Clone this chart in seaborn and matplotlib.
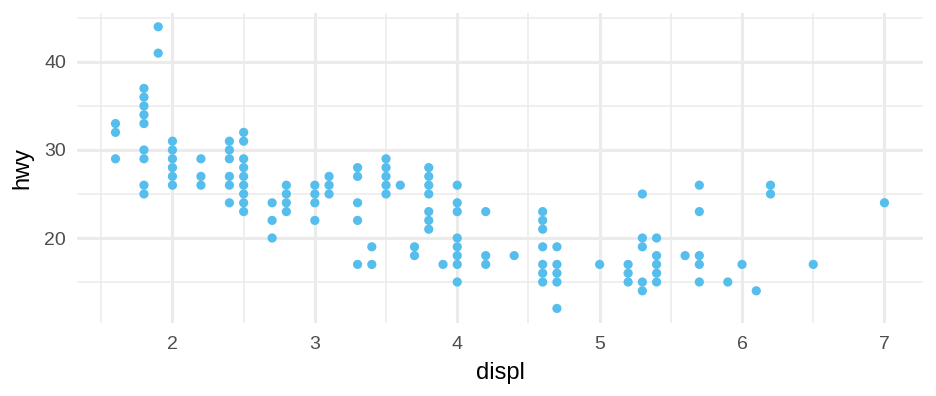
import matplotlib
matplotlib.use("Agg")
import matplotlib.pyplot as plt
import seaborn as sns
import pandas as pd
import numpy as np

# unique (displ, hwy) pairs
displ = ([1.6]*3 + [1.8]*9 + [1.9]*2 + [2.0]*6 + [2.2]*3 + [2.4]*6 + [2.5]*9 +
         [2.7]*3 + [2.8]*4 + [3.0]*4 + [3.1]*3 + [3.3]*5 + [3.4]*2 + [3.5]*5 +
         [3.6]*1 + [3.7]*2 + [3.8]*7 + [3.9]*1 + [4.0]*8 + [4.2]*3 + [4.4]*1 +
         [4.6]*7 + [4.7]*5 + [5.0]*1 + [5.2]*3 + [5.3]*5 + [5.4]*5 + [5.6]*1 +
         [5.7]*5 + [5.9]*1 + [6.0]*1 + [6.1]*1 + [6.2]*2 + [6.5]*1 + [7.0]*1)
hwy = ([33, 32, 29] +
       [37, 36, 35, 34, 33, 30, 29, 26, 25] +
       [44, 41] +
       [31, 30, 29, 28, 27, 26] +
       [29, 27, 26] +
       [31, 30, 29, 27, 26, 24] +
       [32, 31, 29, 28, 27, 26, 25, 24, 23] +
       [24, 22, 20] +
       [26, 25, 24, 23] +
       [26, 25, 24, 22] +
       [27, 26, 25] +
       [28, 27, 24, 22, 17] +
       [19, 17] +
       [29, 28, 27, 26, 25] +
       [26] +
       [19, 18] +
       [28, 27, 26, 25, 23, 22, 21] +
       [17] +
       [26, 24, 23, 20, 19, 18, 17, 15] +
       [23, 18, 17] +
       [18] +
       [23, 22, 21, 19, 17, 16, 15] +
       [19, 17, 16, 15, 12] +
       [17] +
       [17, 16, 15] +
       [25, 20, 19, 15, 14] +
       [20, 18, 17, 16, 15] +
       [18] +
       [26, 23, 18, 17, 15] +
       [15] +
       [17] +
       [14] +
       [26, 25] +
       [17] +
       [24])

x_ticks = [2, 3, 4, 5, 6, 7]
y_ticks = [20, 30, 40]

df = pd.DataFrame({"displ": displ, "hwy": hwy})

sns.set_theme(style="white")
plt.rcParams['font.family'] = ['Liberation Sans', 'DejaVu Sans']

fig = plt.figure(figsize=(9.36, 3.96), dpi=100)
ax = fig.add_axes([0.0823, 0.1856, 0.986 - 0.0823, 0.968 - 0.1856])

sns.scatterplot(data=df, x="displ", y="hwy", ax=ax, color="#56BEEC",
                s=44, edgecolor="none", linewidth=0, zorder=3)

xmin, xmax = 1.6 - 0.27, 7.0 + 0.27
ymin, ymax = 12 - 1.6, 44 + 1.6
ax.set_xlim(xmin, xmax)
ax.set_ylim(ymin, ymax)
ax.set_xticks(x_ticks)
ax.set_yticks(y_ticks)
ax.set_xticks([1.5, 2.5, 3.5, 4.5, 5.5, 6.5], minor=True)
ax.set_yticks([15, 25, 35, 45], minor=True)
ax.grid(True, which="major", color="#EBEBEB", linewidth=2.3, zorder=0)
ax.grid(True, which="minor", color="#EBEBEB", linewidth=1.1, zorder=0)
ax.set_axisbelow(True)
for sp in ax.spines.values():
    sp.set_visible(False)
ax.tick_params(axis="both", which="both", length=0, labelsize=14,
               labelcolor="#4D4D4D")
ax.tick_params(axis="x", pad=10)
ax.tick_params(axis="y", pad=8)
ax.set_xlabel("displ", fontsize=17, color="black", labelpad=6)
ax.set_ylabel("hwy", fontsize=17, color="black", labelpad=8)

fig.savefig("out.png", dpi=100, facecolor="white")
